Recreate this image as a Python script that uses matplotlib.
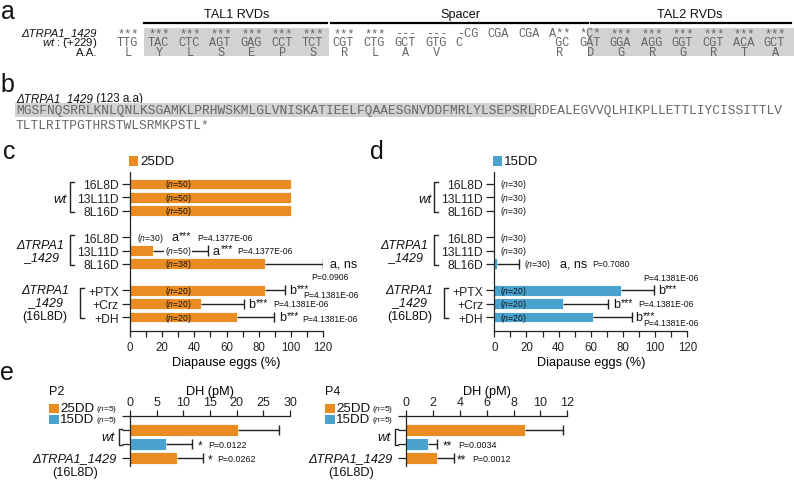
import numpy as np
import matplotlib
matplotlib.use('Agg')
import matplotlib.pyplot as plt
from matplotlib import transforms
from matplotlib.lines import Line2D
from matplotlib.patches import Rectangle
from matplotlib.text import Annotation
from matplotlib.ticker import MultipleLocator

plt.rcParams['font.family'] = ['Liberation Sans', 'DejaVu Sans']
plt.rcParams['mathtext.fontset'] = 'custom'
plt.rcParams['mathtext.rm'] = 'Liberation Sans'
plt.rcParams['mathtext.it'] = 'Liberation Sans:italic'
plt.rcParams['text.color'] = '#111111'

ORANGE = '#ea8c22'
BLUE = '#4aa2cf'
DARK = '#222222'
SEQ = '#666666'

# ---- data ----
# panel a: TALEN target region
seq_mut = ['***'] * 9 + ['---', '---', '-CG', 'CGA', 'CGA', 'A**', '*C*'] + ['***'] * 6
seq_wt = ['TTG', 'TAC', 'CTC', 'AGT', 'GAG', 'CCT', 'TCT', 'CGT', 'CTG', 'GCT', 'GTG', 'C',
          '', '', ' GC', 'GAT', 'GGA', 'AGG', 'GGT', 'CGT', 'ACA', 'GCT']
seq_aa = ['L', 'Y', 'L', 'S', 'E', 'P', 'S', 'R', 'L', 'A', 'V', '', '', '', 'R', 'D',
          'G', 'R', 'G', 'R', 'T', 'A']

# panel b: truncated protein
prot_hl = 'MGSFNQSRRLKNLQNLKSGAMKLPRHWSKMLGLVNISKATIEELFQAAESGNVDDFMRLYLSEPSRL'
prot_rest = 'RDEALEGVVQLHIKPLLETTLIYCISSITTLV'
prot_line2 = 'TLTLRITPGTHRSTWLSRMKPSTL*'

# panels c/d: diapause eggs (%)
conditions = ['16L8D', '13L11D', '8L16D', '16L8D', '13L11D', '8L16D', '+PTX', '+Crz', '+DH']
c_mean = [100, 100, 100, 0, 14, 84, 84, 44, 66.7]
c_sd = [0, 0, 0, 0, 34.6, 35.7, 12.3, 26.8, 22.9]
c_n = [50, 50, 50, 30, 50, 38, 20, 20, 20]
d_mean = [0, 0, 0, 0, 0, 1.9, 78.5, 42.5, 61.6]
d_sd = [0, 0, 0, 0, 0, 13.6, 20.8, 28.4, 23.8]
d_n = [30, 30, 30, 30, 30, 30, 20, 20, 20]

# panel e: DH (pM)
e_groups = ['25DD', '15DD', '25DD']
p2_mean = [20.2, 6.75, 8.75]
p2_sd = [7.8, 4.95, 5.0]
p4_mean = [8.86, 1.66, 2.33]
p4_sd = [2.8, 0.67, 1.27]
p2_sig = ['', '*', '*']
p2_p = ['', 'P=0.0122', 'P=0.0262']
p4_sig = ['', '**', '**']
p4_p = ['', 'P=0.0034', 'P=0.0012']

# ---- figure ----
W, H = 794, 481
fig = plt.figure(figsize=(W / 100, H / 100), dpi=100)
PX = transforms.Affine2D().scale(1 / W, -1 / H).translate(0, 1) + fig.transFigure


def T(x, y, s, **kw):
    kw.setdefault('va', 'center')
    return fig.text(x, y, s, transform=PX, **kw)


def T_after(prev, s, **kw):
    a = Annotation(s, xy=(1, 0), xycoords=prev, xytext=(0, 0), textcoords='offset points',
                   va='bottom', ha='left', **kw)
    fig.add_artist(a)
    return a


def axes_px(l, t, r, b):
    return fig.add_axes([l / W, 1 - b / H, (r - l) / W, (b - t) / H])


for lab, x, y in [('a', 8, 12), ('b', 7, 85), ('c', 9, 152), ('d', 377, 152), ('e', 7, 373)]:
    T(x, y, lab, fontsize=18, ha='center')

# ---- panel a ----
mono = 'Liberation Mono'
cw = 7.7
fs_mono = 8.6
x0, pitch = 117, 4 * cw
T(237, 15, 'TAL1 RVDs', fontsize=9.1, ha='center')
T(460, 15, 'Spacer', fontsize=9.1, ha='center')
T(690, 15, 'TAL2 RVDs', fontsize=9.1, ha='center')
for xa, xb in [(144, 327), (331, 588), (591, 791)]:
    fig.add_artist(Line2D([xa, xb], [24, 24], transform=PX, color='k', lw=1.6))
tal1_l = x0 + pitch * 1 - cw / 2
tal1_r = x0 + pitch * 6 + 3.5 * cw
tal2_l = x0 + pitch * 15 + cw * 1.2
fig.add_artist(Rectangle((tal1_l, 29), tal1_r - tal1_l, 28, transform=PX,
                         facecolor='#d2d2d2', edgecolor='none', zorder=0))
fig.add_artist(Rectangle((tal2_l, 29), W - tal2_l, 28, transform=PX,
                         facecolor='#d2d2d2', edgecolor='none', zorder=0))
T(97, 33, 'ΔTRPA1_1429', fontsize=8.2, ha='right', style='italic')
T(97, 43, '$\\it{wt}$ : (+229)', fontsize=8.2, ha='right')
T(97, 53, 'A.A.', fontsize=8.2, ha='right')
for k in range(len(seq_wt)):
    xk = x0 + pitch * k
    cx = xk + 1.5 * cw
    T(cx, 34, seq_mut[k], family=mono, fontsize=fs_mono, ha='center', color=SEQ)
    T(xk, 43, seq_wt[k], family=mono, fontsize=fs_mono, ha='left', color=SEQ)
    T(cx, 53, seq_aa[k], family=mono, fontsize=fs_mono, ha='center', color=SEQ)

# ---- panel b ----
cwb = 7.73
fsb = cwb / (0.6 * 100 / 72)
tb = T(16, 99, 'ΔTRPA1_1429', fontsize=8.4, ha='left', style='italic')
T_after(tb, ' (123 a.a)', fontsize=8.4)
T(16, 111, prot_hl, family=mono, fontsize=fsb, ha='left', color=SEQ,
  bbox=dict(facecolor='#d2d2d2', edgecolor='none', pad=0.6))
T(16 + len(prot_hl) * cwb, 111, prot_rest, family=mono, fontsize=fsb, ha='left', color=SEQ)
T(16, 126, prot_line2, family=mono, fontsize=fsb, ha='left', color=SEQ)

# ---- panels c and d ----
rows = [0, 1, 2, 4, 5, 6, 8, 9, 10]


def bracket(ax, xpx, r0, r1, arm=4):
    tr = transforms.blended_transform_factory(PX, ax.transData)
    ax.add_line(Line2D([xpx + arm, xpx, xpx, xpx + arm], [r0, r0, r1, r1], transform=tr,
                       color=DARK, lw=1, clip_on=False))


def ltext(ax, xpx, r, s, **kw):
    tr = transforms.blended_transform_factory(PX, ax.transData)
    kw.setdefault('va', 'center')
    ax.text(xpx, r, s, transform=tr, **kw)


def sig(ax, x, r, letter, stars, p, px_, pdy, fs=9):
    ax.text(x, r, letter, fontsize=fs, va='center', ha='left')
    if stars:
        ax.annotate(stars, xy=(x, r), xytext=(5.3, 1.5), textcoords='offset points',
                    fontsize=7.5, va='center', ha='left')
    ax.text(px_, r + pdy, p, fontsize=6.2, va='center', ha='left')


def diapause_panel(ax, means, sds, ns, color, n_pos, sigs, shift, legend):
    ax.barh(rows, means, height=0.8, color=color, edgecolor='white', linewidth=0.6)
    for r, m, s in zip(rows, means, sds):
        if s > 0:
            ax.hlines(r, m, m + s, color=DARK, lw=1, zorder=3)
            ax.vlines(m + s, r - 0.38, r + 0.38, color=DARK, lw=1, zorder=3)
    for r, n, (xp, ha, box) in zip(rows, ns, n_pos):
        kw = dict(fontsize=6.2, va='center', ha=ha, zorder=4)
        if box:
            kw['bbox'] = dict(facecolor='white', edgecolor='none', pad=0.5)
        ax.text(xp, r, '($\\it{n}$=%d)' % n, **kw)
    for s in sigs:
        sig(ax, *s)
    ax.set_xlim(0, 120)
    ax.set_yticks(rows)
    ax.set_yticklabels(conditions)
    ax.xaxis.set_major_locator(MultipleLocator(20))
    ax.xaxis.set_minor_locator(MultipleLocator(10))
    ax.tick_params(axis='x', which='both', direction='out', length=4, width=0.9,
                   labelsize=8.3, pad=3, colors=DARK)
    ax.tick_params(axis='y', direction='out', length=5.5, width=0.9, labelsize=8.7, pad=2.5,
                   colors=DARK)
    ax.set_xlabel('Diapause eggs (%)', fontsize=9.2, labelpad=2.5)
    for sp in ['top', 'right']:
        ax.spines[sp].set_visible(False)
    for sp in ['left', 'bottom']:
        ax.spines[sp].set_linewidth(0.9)
        ax.spines[sp].set_color(DARK)
    # group labels
    bracket(ax, 70 + shift, -0.15, 2.1)
    bracket(ax, 70 + shift, 3.85, 6.1)
    bracket(ax, 80 + shift, 7.85, 10.1)
    ltext(ax, 67 + shift, 1.1, 'wt', fontsize=9.5, style='italic', ha='right')
    ltext(ax, 40 + shift, 4.6, 'ΔTRPA1', fontsize=9, style='italic', ha='center')
    ltext(ax, 42 + shift, 5.5, '_1429', fontsize=9, style='italic', ha='center')
    ltext(ax, 45 + shift, 7.95, 'ΔTRPA1', fontsize=9, style='italic', ha='center')
    ltext(ax, 46 + shift, 8.9, '_1429', fontsize=9, style='italic', ha='center')
    ltext(ax, 45 + shift, 9.95, '(16L8D)', fontsize=9, ha='center')
    ax.set_ylim(11.05, -0.9)
    lx = 129 + shift
    fig.add_artist(Rectangle((lx, 157), 9, 10, transform=PX, facecolor=color, edgecolor='none'))
    T(lx + 11, 162, legend, fontsize=9.6, ha='left')


ax_c = axes_px(130, 173, 323, 332)
n_pos_c = [(30, 'center', False)] * 3 + [(12.4, 'center', False), (30, 'center', True),
                                         (30, 'center', False)] + [(30, 'center', False)] * 3
sigs_c = [(26, 4, 'a', '***', 'P=4.1377E-06', 42, 0.0),
          (51.6, 5, 'a', '***', 'P=4.1377E-06', 66.5, 0.0),
          (124.4, 6, 'a, ns', '', 'P=0.0906', 113, 0.95),
          (99, 8, 'b', '***', 'P=4.1381E-06', 107.6, 0.3),
          (73.4, 9, 'b', '***', 'P=4.1381E-06', 89, 0.0),
          (92.7, 10, 'b', '***', 'P=4.1381E-06', 107, 0.1)]
diapause_panel(ax_c, c_mean, c_sd, c_n, ORANGE, n_pos_c, sigs_c, 0, '25DD')

ax_d = axes_px(494.3, 173, 687.3, 332)
n_pos_d = [(3.5, 'left', False)] * 5 + [(18.5, 'left', False)] + [(3.5, 'left', False)] * 3
sigs_d = [(40.9, 6, 'a, ns', '', 'P=0.7080', 60.8, 0.0),
          (101.7, 8, 'b', '***', 'P=4.1381E-06', 92.4, -1.0),
          (73.8, 9, 'b', '***', 'P=4.1381E-06', 89.4, 0.0),
          (87.5, 10, 'b', '***', 'P=4.1381E-06', 92.4, 0.4)]
diapause_panel(ax_d, d_mean, d_sd, d_n, BLUE, n_pos_d, sigs_d, 364.3, '15DD')

# ---- panel e ----
e_rows = [1, 2, 3]
e_colors = [ORANGE if g == '25DD' else BLUE for g in e_groups]


def dh_panel(ax, means, sds, xmax, step, stars, ps, star_x, shift, title):
    ax.barh(e_rows, means, height=0.82, color=e_colors, edgecolor='white', linewidth=0.6)
    for r, m, s in zip(e_rows, means, sds):
        ax.hlines(r, m, m + s, color=DARK, lw=1, zorder=3)
        ax.vlines(m + s, r - 0.36, r + 0.36, color=DARK, lw=1, zorder=3)
    for r, st, p, sx in zip(e_rows, stars, ps, star_x):
        if st:
            ax.text(sx, r + 0.1, st, fontsize=8.5, va='center', ha='left')
            ax.annotate(p, xy=(sx, r), xytext=(3.6 * len(st) + 3.5, 0),
                        textcoords='offset points', fontsize=6.4, va='center', ha='left')
    ax.set_xlim(0, xmax)
    ax.xaxis.tick_top()
    ax.xaxis.set_label_position('top')
    ax.set_xticks(np.arange(0, xmax + 0.01, step))
    ax.set_xlabel('DH (pM)', fontsize=9.2, labelpad=1.5)
    ax.set_yticks([0, 1, 2, 3])
    ax.set_yticklabels([])
    ax.tick_params(axis='x', direction='out', length=4, width=0.9, labelsize=9, pad=1.5,
                   colors=DARK)
    ax.tick_params(axis='y', direction='out', length=5.5, width=0.9, colors=DARK)
    for sp in ['bottom', 'right']:
        ax.spines[sp].set_visible(False)
    for sp in ['left', 'top']:
        ax.spines[sp].set_linewidth(0.9)
        ax.spines[sp].set_color(DARK)
    ltext(ax, 115 + shift, 1.5, 'wt', fontsize=9.5, style='italic', ha='right')
    bracket(ax, 119 + shift, 0.95, 2.05, arm=2.5)
    ltext(ax, 117 + shift, 3, 'ΔTRPA1_1429', fontsize=9.2, style='italic', ha='right')
    ltext(ax, 75 + shift, 4.0, '(16L8D)', fontsize=9.2, ha='center')
    ax.set_ylim(3.57, 0)
    lx = 49 + shift
    T(lx, 392, title, fontsize=9, ha='left')
    for yy, col, g in [(409, ORANGE, '25DD'), (420, BLUE, '15DD')]:
        fig.add_artist(Rectangle((lx, yy - 4.5), 10, 9, transform=PX, facecolor=col,
                                 edgecolor='none'))
        T(lx + 11, yy, g, fontsize=9.6, ha='left')
        T(lx + 47, yy + 0.5, '($\\it{n}$=5)', fontsize=6, ha='left')


ax_e1 = axes_px(130, 417, 290, 467)
dh_panel(ax_e1, p2_mean, p2_sd, 30, 5, p2_sig, p2_p, [0, 12.75, 14.6], 0, 'P2')
ax_e2 = axes_px(406, 417, 567.3, 467)
dh_panel(ax_e2, p4_mean, p4_sd, 12, 2, p4_sig, p4_p, [0, 2.75, 3.8], 276, 'P4')

fig.savefig('out.png', dpi=100)
